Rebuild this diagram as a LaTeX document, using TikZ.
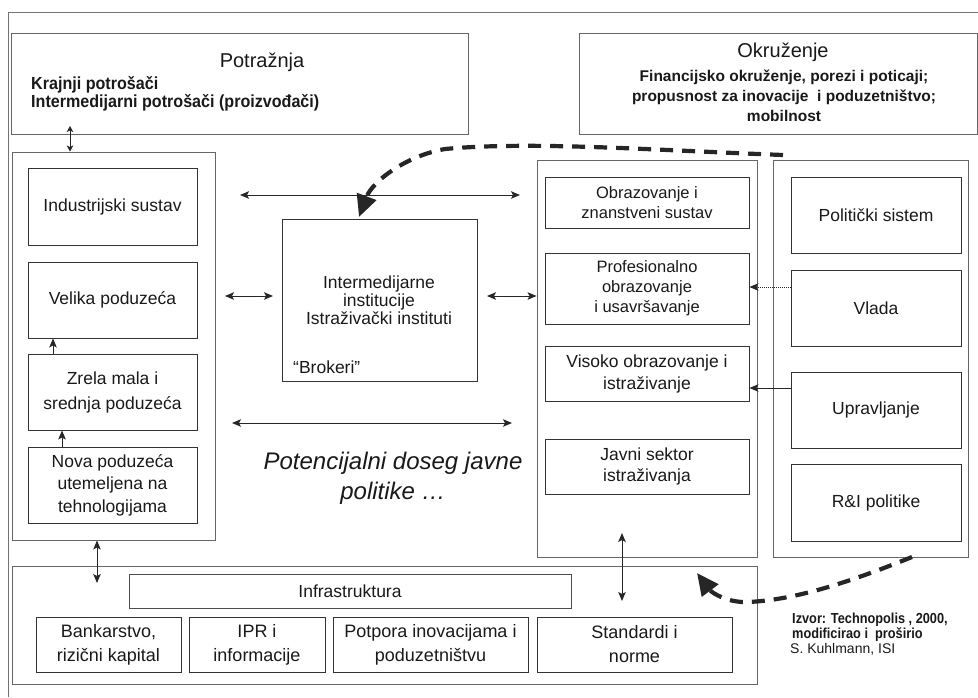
\documentclass[tikz,border=0pt]{standalone}
\usepackage{fontspec}
\setmainfont{Liberation Sans}
\newfontfamily\narrowfont[FakeStretch=0.92]{Liberation Sans}
\newfontfamily\narrowerfont[FakeStretch=0.88]{Liberation Sans}
\usetikzlibrary{arrows.meta}
\newcommand\myfs[2]{\fontsize{#1}{#2}\selectfont}
\begin{document}
\begin{tikzpicture}[x=1pt,y=-1pt,
  box/.style={draw=black!80, line width=0.9pt, inner sep=0pt, align=center, text=black!90, font=\myfs{17.5}{21}},
  container/.style={draw=black!60, line width=0.9pt, inner sep=0pt},
  txt/.style={inner sep=0pt, text=black!90, align=center},
  tip/.tip={Stealth[length=9pt,width=7.5pt,inset=2pt]},
  smalltip/.tip={Stealth[length=6pt,width=6.5pt,inset=1.5pt]},
  dbl/.style={tip-tip, line width=1pt, draw=black!85},
  sgl/.style={-tip, line width=1pt, draw=black!85},
  bigdash/.style={line width=4.2pt, dash pattern=on 13pt off 9pt, draw=black!85, -{Triangle[length=22pt,width=20pt]}},
]
\useasboundingbox (0,0) rectangle (978,697);
% outer frame
\draw[black!55, line width=0.9pt] (8,697) -- (8,12) -- (978,12);

% Demand and environment
\node[container, minimum width=457pt, minimum height=101pt] (dem) at (239.5,83.5) {};
\node[txt, font=\myfs{20}{24}] (demt) at (262,62) {Potražnja};
\node[txt, anchor=west, font=\narrowfont\bfseries\myfs{17.5}{18}] (dem1) at (31,85) {Krajnji potrošači};
\node[txt, anchor=west, font=\narrowfont\bfseries\myfs{17.5}{18}] (dem2) at (31,103) {Intermedijarni potrošači (proizvođači)};

\node[container, minimum width=398pt, minimum height=101pt] (env) at (778,83.5) {};
\node[txt, font=\myfs{20}{24}] (envt) at (783,52) {Okruženje};
\node[txt, font=\bfseries\myfs{15.5}{20}] (envl) at (784,96) {Financijsko okruženje, porezi i poticaji;\\propusnost za inovacije\ \ i poduzetništvo;\\mobilnost};

% Left column
\node[container, minimum width=203pt, minimum height=388pt] (leftcol) at (113.5,346) {};
\node[box, minimum width=169pt, minimum height=77pt] (ind) at (112.5,206.5) {Industrijski sustav};
\node[box, minimum width=169pt, minimum height=76pt] (vel) at (112.5,300) {Velika poduzeća};
\node[box, minimum width=169pt, minimum height=76pt, font=\myfs{17.5}{25}] (zrela) at (112.5,392) {Zrela mala i\\srednja poduzeća};
\node[box, minimum width=169pt, minimum height=76pt, font=\myfs{17.5}{22.5}] (nova) at (112.5,485) {Nova poduzeća\\utemeljena na\\tehnologijama};

% Center
\node[container, draw=black!80, minimum width=195pt, minimum height=162pt] (mid) at (379.5,300) {};
\node[txt, font=\myfs{17.5}{18}] (midt) at (379,300) {Intermedijarne\\institucije\\Istraživački instituti};
\node[txt, anchor=west, font=\myfs{17.5}{18}] (brok) at (293,367) {“Brokeri”};
\node[txt, font=\itshape\myfs{24}{30}] (pol) at (393,478) {Potencijalni doseg javne\\politike …};

% Right column
\node[container, minimum width=220pt, minimum height=397pt] (rightcol) at (647,358.5) {};
\node[box, minimum width=204pt, minimum height=51pt, font=\myfs{16.5}{20}] (obr) at (647,202.5) {Obrazovanje i\\znanstveni sustav};
\node[box, minimum width=204pt, minimum height=71pt, font=\myfs{16.5}{20}] (prof) at (647,288.5) {Profesionalno\\obrazovanje\\i usavršavanje};
\node[box, minimum width=204pt, minimum height=55pt, font=\myfs{17.5}{22}] (vis) at (647,373.5) {Visoko obrazovanje i\\istraživanje};
\node[box, minimum width=204pt, minimum height=55pt, font=\myfs{17.5}{21}] (jav) at (647,466.5) {Javni sektor\\istraživanja};

% Far right column
\node[container, minimum width=195pt, minimum height=397pt] (farcol) at (870.5,358.5) {};
\node[box, minimum width=170pt, minimum height=76pt] (polsys) at (876,215) {Politički sistem};
\node[box, minimum width=170pt, minimum height=76pt] (vlada) at (876,308) {Vlada};
\node[box, minimum width=170pt, minimum height=76pt] (upr) at (876,410) {Upravljanje};
\node[box, minimum width=170pt, minimum height=77pt] (ri) at (876,502.5) {R\&I politike};

% Bottom
\node[container, minimum width=745pt, minimum height=118pt] (bot) at (384.5,625) {};
\node[box, draw=black!70, minimum width=442pt, minimum height=34pt] (infra) at (350,591) {Infrastruktura};
\node[box, minimum width=145pt, minimum height=55pt, font=\myfs{18}{24}] (bank) at (108.5,644.5) {Bankarstvo,\\rizični kapital};
\node[box, minimum width=136pt, minimum height=55pt, font=\myfs{18}{24}] (ipr) at (257,644.5) {IPR i\\informacije};
\node[box, minimum width=195pt, minimum height=55pt, font=\myfs{18}{24}] (pot) at (430.5,644.5) {Potpora inovacijama i\\poduzetništvu};
\node[box, minimum width=195pt, minimum height=55pt, font=\myfs{18}{24}] (std) at (634.5,644.5) {Standardi i\\norme};

% Source
\node[txt, anchor=west, font=\narrowerfont\bfseries\myfs{14.5}{15}] (src1) at (792,620) {Izvor: Technopolis , 2000,};
\node[txt, anchor=west, font=\narrowerfont\bfseries\myfs{14.5}{15}] (src2) at (792,635) {modificirao i\ \ proširio};
\node[txt, anchor=west, font=\myfs{14}{15}] (src3) at (790,649) {S. Kuhlmann, ISI};

% helper coordinates
\coordinate (demA) at (70,126);
\coordinate (x53) at (53,0);
\coordinate (x62) at (62,0);
\coordinate (x97) at (97,0);
\coordinate (y287) at (0,287);
\coordinate (y388) at (0,388);
\coordinate (y296) at (0,296);
\coordinate (topL) at (240,195);
\coordinate (topR) at (520,195);
\coordinate (lowL) at (232,423);
\coordinate (lowR) at (512,423);
\coordinate (leftA) at (225,296);
\coordinate (leftB) at (273,296);
\coordinate (rightA) at (487,296);
\coordinate (botA) at (97,583);
\coordinate (stdA) at (622,533);
\coordinate (stdB) at (622,601);
\coordinate (d1s) at (783,155);
\coordinate (d1e) at (359,217);
\coordinate (d2s) at (912,557);
\coordinate (d2e) at (697,573);

% connectors
\draw[smalltip-smalltip, line width=1pt, draw=black!85] (demA) -- (leftcol.north -| demA);
\draw[sgl] (zrela.north -| x53) -- (vel.south -| x53);
\draw[sgl] (nova.north -| x62) -- (zrela.south -| x62);
\draw[dbl] (topL) -- (topR);
\draw[dbl] (lowL) -- (lowR);
\draw[dbl] (leftA) -- (leftB);
\draw[dbl] (rightA) -- (rightcol.west |- y296);
\draw[dbl] (leftcol.south -| x97) -- (botA);
\draw[dbl] (stdA) -- (stdB);
\draw[-tip, line width=1pt, densely dotted, draw=black!85] (vlada.west |- y287) -- (prof.east |- y287);
\draw[sgl] (upr.west |- y388) -- (vis.east |- y388);

% dashed curved arrows
\draw[bigdash] (d1s) .. controls (650,150) and (530,141) .. (445,149) .. controls (405,156) and (372,182) .. (d1e);
\draw[bigdash] (d2s) .. controls (850,582) and (795,600) .. (748,602) .. controls (728,603) and (712,593) .. (d2e);
\end{tikzpicture}
\end{document}
